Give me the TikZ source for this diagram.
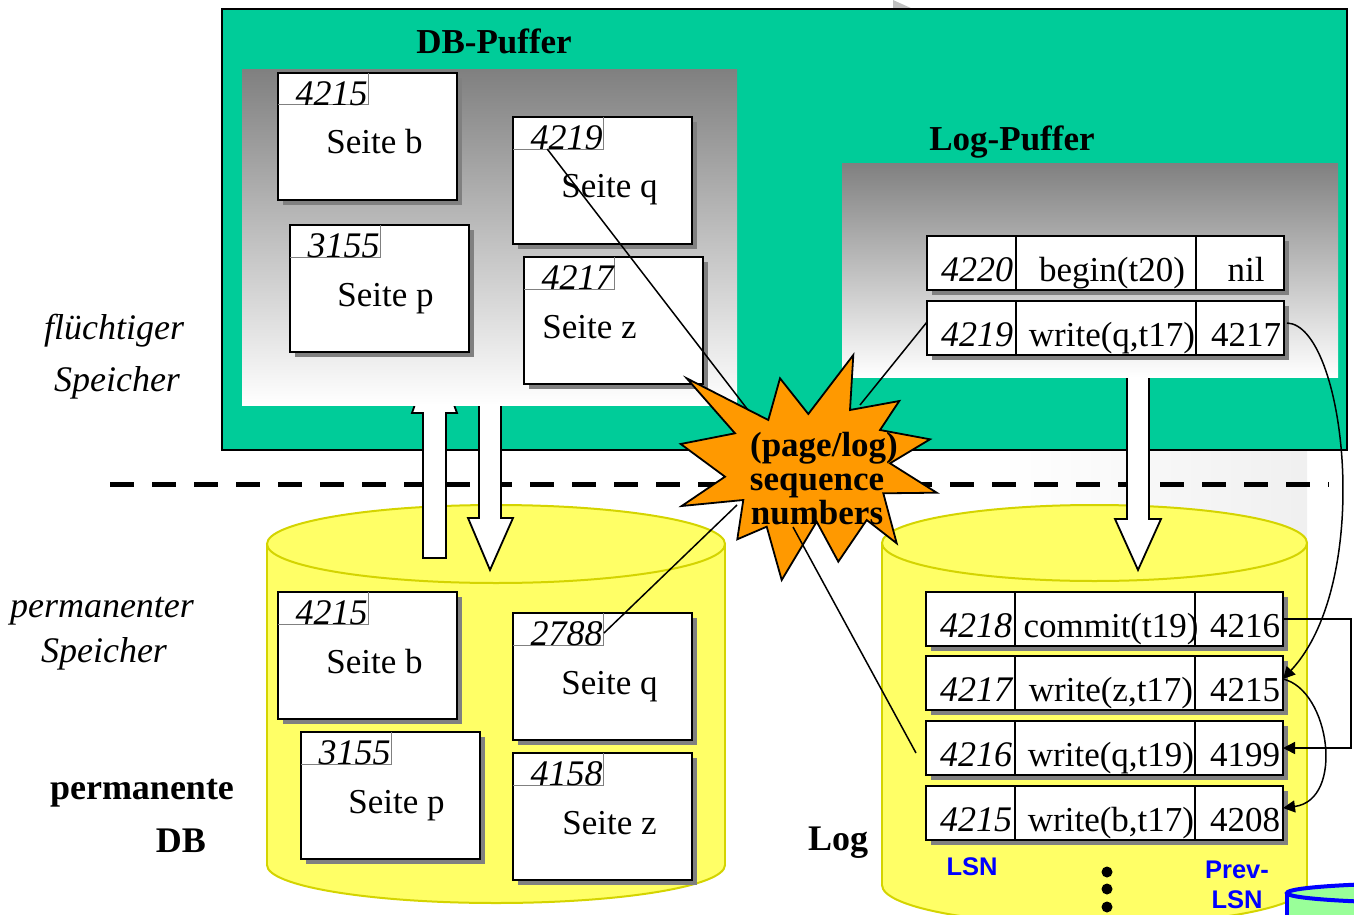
\documentclass[tikz,border=0pt]{standalone}
\usepackage{fontspec}
\setmainfont{Liberation Serif}
\newfontfamily\lsnfont{Liberation Sans}
\usetikzlibrary{calc,shadows,arrows.meta}
\definecolor{dbgreen}{RGB}{0,204,153}
\definecolor{cylyellow}{RGB}{255,255,102}
\definecolor{cylline}{RGB}{212,212,0}
\definecolor{starorange}{RGB}{255,153,0}
\definecolor{shadowgray}{RGB}{128,128,128}
\definecolor{midgray}{RGB}{208,208,208}
\definecolor{lsnblue}{RGB}{0,0,255}
\definecolor{blgreen}{RGB}{153,255,153}
\tikzset{
 pagebox/.style={draw=black,line width=1pt,fill=white,minimum width=89.5pt,minimum height=63.5pt,inner sep=0pt,outer sep=0pt,drop shadow={shadow xshift=2.5pt,shadow yshift=-2.5pt,fill=shadowgray,opacity=1}},
 numbox/.style={minimum width=45pt,minimum height=16pt,inner sep=0pt,outer sep=0pt,anchor=north west},
 numline/.style={draw=shadowgray,line width=0.5pt},
 numtext/.style={font=\fontsize{18}{18}\selectfont\itshape,inner sep=0pt,anchor=base east},
 bigtext/.style={font=\fontsize{17.5}{18}\selectfont,inner sep=0pt,anchor=base},
 rowbox/.style={draw=black,line width=1pt,fill=white,minimum width=178.5pt,minimum height=27pt,inner sep=0pt,outer sep=0pt,anchor=north west,drop shadow={shadow xshift=2.5pt,shadow yshift=-2.5pt,fill=shadowgray,opacity=1}},
 rowline/.style={draw=black,line width=0.8pt},
 titletext/.style={font=\fontsize{17.5}{18}\selectfont\bfseries,inner sep=0pt,anchor=base},
 sidetext/.style={font=\fontsize{18}{18}\selectfont\itshape,inner sep=0pt,anchor=base},
 sidebold/.style={font=\fontsize{18}{18}\selectfont\bfseries,inner sep=0pt,anchor=base},
 lsntext/.style={font=\lsnfont\bfseries\fontsize{12.75}{13}\selectfont,text=lsnblue,inner sep=0pt,anchor=base},
 conn/.style={draw=black,line width=0.75pt},
 prevarrow/.style={conn,-{Triangle[length=6pt,width=6pt]}},
 blockarrow/.style={draw=black,line width=0.9pt,fill=white},
 cyl/.style={fill=cylyellow,draw=cylline,line width=1pt},
}
\newcommand\dbpage[6]{%
 \node[pagebox,anchor=north west] (#1) at (#2,#3) {};
 \node[numbox] (#1n) at (#2,#3) {};
 \draw[numline] (#1n.north east) |- (#1n.south west);
 \node[numtext] (#1num) at ($(#1n.south east)+(0,0)$) {#4};
 \node[bigtext] (#1txt) at ($(#1.north)+(#6,81)$) {#5};
}
\newcommand\logrow[6]{%
 \node[rowbox] (#1) at (#2,#3) {};
 \draw[rowline] ($(#1.north west)+(89,0)$) -- ($(#1.south west)+(89,0)$);
 \draw[rowline] ($(#1.north west)+(269,0)$) -- ($(#1.south west)+(269,0)$);
 \node[numtext,anchor=base] (#1l) at ($(#1.north west)+(50,45)$) {#4};
 \node[bigtext] (#1o) at ($(#1.north west)+(185,45)$) {#5};
 \node[bigtext] (#1p) at ($(#1.north west)+(319,45)$) {#6};
}
\begin{document}
\begin{tikzpicture}[x=0.5pt,y=-0.5pt]
\useasboundingbox (0,0) rectangle (1354,915);
\begin{scope}
\clip (0,0) rectangle (1354,915);
% faint background areas
\fill[gray!50] (893,0) -- (913,9) -- (893,9) -- cycle;
\shade[left color=white,right color=gray!12] (1000,450) rectangle (1307,545);
% green volatile area
\fill[dbgreen,draw=black,line width=1pt] (222,9) rectangle (1347,450);
% dashed separator
\draw[line width=2.5pt,dash pattern=on 12pt off 9pt] (110,484) -- (1329,484);
% DB cylinder
\path[cyl] (496,865) ellipse [x radius=229,y radius=38];
\fill[cylyellow] (267,544) rectangle (725,865);
\draw[cylline,line width=1pt] (267,544) -- (267,865) (725,544) -- (725,865);
\path[cyl] (496,544) ellipse [x radius=229,y radius=39];
% Log cylinder
\path[cyl] (1094.5,885) ellipse [x radius=212.5,y radius=40];
\fill[cylyellow] (882,543) rectangle (1307,885);
\draw[cylline,line width=1pt] (882,543) -- (882,885) (1307,543) -- (1307,885);
\path[cyl] (1094.5,543) ellipse [x radius=212.5,y radius=38];
% blue cylinder (partly visible)
\fill[blgreen] (1287,893) rectangle (1600,940);
\draw[lsnblue,line width=2pt] (1287,893) -- (1287,940);
\draw[lsnblue,line width=2pt,fill=blgreen] (1440,893) ellipse [x radius=153,y radius=10];
\end{scope}
% block arrows
\draw[blockarrow] (434,350) -- (457,413) -- (446,413) -- (446,558) -- (423,558) -- (423,413) -- (412,413) -- cycle;
\draw[blockarrow] (479,390) -- (501,390) -- (501,518) -- (513,518) -- (490,570) -- (468,518) -- (479,518) -- cycle;
\draw[blockarrow] (1127,360) -- (1149,360) -- (1149,519) -- (1161,519) -- (1138,570) -- (1115,519) -- (1127,519) -- cycle;
% buffers
\shade[top color=shadowgray,bottom color=white] (242,70) rectangle (737,405);
\shade[top color=shadowgray,middle color=midgray,bottom color=white] (842,163) rectangle (1338,377);
\node[titletext] (dbpuffer) at (494,54) {DB-Puffer};
\node[titletext] (logpuffer) at (1012,150) {Log-Puffer};
% pages
\dbpage{pb}{278}{73}{4215}{Seite b}{7}
\dbpage{pq}{513}{117}{4219}{Seite q}{7}
\dbpage{pp}{290}{225}{3155}{Seite p}{6}
\dbpage{pz}{524}{257}{4217}{Seite z}{-24}
\dbpage{db}{278}{592}{4215}{Seite b}{7}
\dbpage{dq}{513}{613}{2788}{Seite q}{7}
\dbpage{dp}{301}{732}{3155}{Seite p}{6}
\dbpage{dz}{513}{753}{4158}{Seite z}{7}
% log records
\logrow{ba}{927}{236}{4220}{begin(t20)}{nil}
\logrow{bb}{927}{301}{4219}{write(q,t17)}{4217}
\logrow{la}{926}{592}{4218}{commit(t19)}{4216}
\logrow{lb}{926}{656}{4217}{write(z,t17)}{4215}
\logrow{lc}{926}{721}{4216}{write(q,t19)}{4199}
\logrow{ld}{926}{786}{4215}{write(b,t17)}{4208}
% Prev-LSN chains
\draw[prevarrow] ($(bb.east)+(3,-5)$) .. controls (1345,325) and (1375,580) .. ($(lb.east)+(0,-4)$);
\draw[prevarrow] (la.east) -- ++(68,0) |- (lc.east);
\draw[prevarrow] ($(lb.east)+(0,-4)$) .. controls (1330,690) and (1345,800) .. ($(ld.east)+(0,-5)$);
% star connectors
\coordinate (sA) at (748,410);
\coordinate (sB) at (860,405);
\coordinate (sC) at (737,505);
\coordinate (sD) at (793,527);
\draw[conn] ($(pqn.south west)!0.38!(pqn.south east)$) -- (sA);
\draw[conn] ($(bb.west)+(0,-6)$) -- (sB);
\draw[conn] (sC) -- ($(dqn.south east)+(1,-12)$);
% star
\draw[fill=starorange,line width=0.9pt,line join=miter]
 (686.7,378.3) -- (768.3,420) -- (780,378.3) -- (808.3,414) -- (853.3,355) -- (850,410)
 -- (899.3,401) -- (880,430) -- (930,439.3) -- (890,463.3) -- (936.7,492.7) -- (883.3,493.3)
 -- (896.7,543.3) -- (866.7,520) -- (838.3,561.7) -- (816.7,521.7) -- (781.7,580) -- (766.7,526.7)
 -- (737.3,539.3) -- (743.3,500) -- (681.7,506) -- (725,476.7) -- (680.7,444) -- (735,433.3) -- cycle;
\draw[conn] (sD) -- ($(lc.west)+(-10,5)$);
\node[titletext] (st1) at (824,456) {(page/log)};
\node[titletext] (st2) at (817,490) {sequence};
\node[titletext] (st3) at (817,524) {numbers};
% side labels
\node[sidetext] (fl1) at (114,339) {flüchtiger};
\node[sidetext] (fl2) at (117,391) {Speicher};
\node[sidetext] (pe1) at (102,617) {permanenter};
\node[sidetext] (pe2) at (104,662) {Speicher};
\node[sidebold] (pd1) at (142,799) {permanente};
\node[sidebold] (pd2) at (181,852) {DB};
\node[sidebold] (logl) at (838,850) {Log};
% LSN labels
\node[lsntext] (lsn) at (972,875) {LSN};
\node[lsntext] (prev1) at (1237,878) {Prev-};
\node[lsntext] (prev2) at (1237,908) {LSN};
\fill (1107,872) circle [radius=5.5] (1107,889) circle [radius=5.5] (1107,907) circle [radius=5.5];
\end{tikzpicture}
\end{document}
